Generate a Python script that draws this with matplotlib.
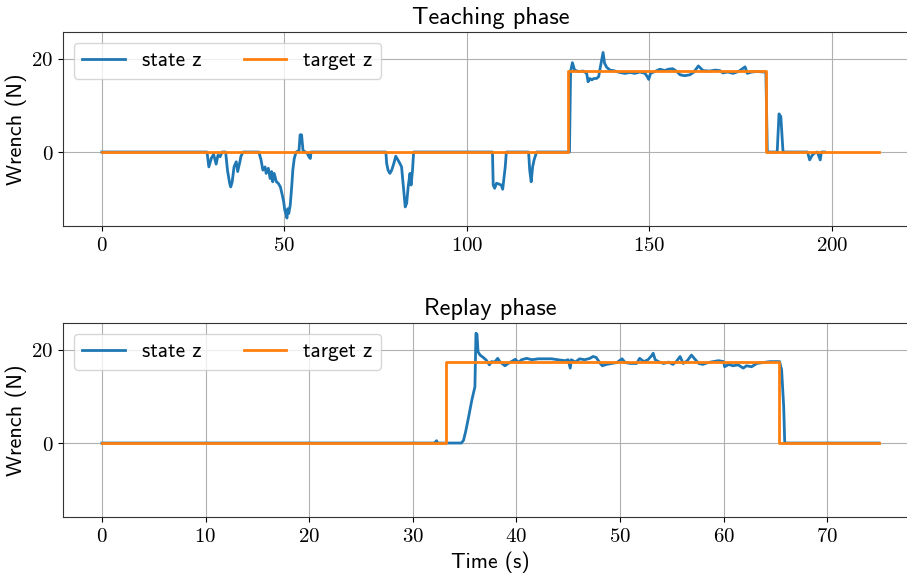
"""
Force tracking plot: teaching phase vs replay phase (z wrench).
"""
import numpy as np
import matplotlib
matplotlib.use("Agg")
import matplotlib.pyplot as plt
from matplotlib.ticker import FuncFormatter

BLUE = "#1f77b4"
ORANGE = "#ff7f0e"

plt.rcParams.update({
    "font.family": "cmss10",
    "mathtext.fontset": "cm",
    "axes.unicode_minus": False,
    "axes.edgecolor": "#333333",
    "grid.color": "#b0b0b0",
})

# ── Teaching phase ─────────────────────────────────────────────────────────
teach_state_t = [
    0.0, 28.8, 29.3, 30.0, 30.6, 31.3, 31.8, 32.4, 32.9, 33.9, 34.4, 35.0, 35.3, 35.7,
    36.2, 36.8, 37.2, 37.8, 38.1, 38.7, 43.0, 43.6, 44.1, 44.7, 45.0, 45.6, 46.1,
    46.5, 46.8, 47.2, 47.8, 48.3, 48.9, 49.4, 49.8, 50.1, 50.5, 50.7, 50.9, 51.2,
    51.6, 52.0, 52.3, 52.7, 53.2, 54.0, 54.3, 54.7, 55.1, 55.8, 56.3, 56.7, 57.1,
    57.3, 77.8, 78.0, 78.4, 78.9, 79.4, 80.0, 80.5, 81.1, 81.6, 82.1, 82.6, 83.1,
    83.5, 83.9, 84.4, 84.7, 85.1, 85.4, 107.0, 107.2, 107.6, 108.1, 108.8, 109.4,
    109.8, 110.1, 110.5, 110.8, 116.9, 117.2, 117.6, 118.0, 118.4, 118.7, 119.1,
    128.1, 128.4, 128.9, 129.5, 130.6, 131.9, 132.8, 133.2, 133.7, 134.2, 134.8,
    135.5, 136.1, 136.4, 137.0, 137.3, 137.7, 138.3, 139.2, 140.1, 141.0, 141.9,
    143.3, 144.7, 146.0, 147.4, 148.8, 149.4, 149.8, 150.3, 151.5, 152.9, 154.2,
    155.2, 156.4, 157.5, 158.4, 159.6, 161.1, 162.2, 163.4, 164.7, 166.5, 168.0,
    169.3, 170.1, 171.5, 172.9, 174.4, 175.3, 176.2, 176.8, 178.0, 179.6, 181.2,
    181.9, 182.3, 185.0, 185.5, 186.0, 186.6, 193.3, 193.9, 194.5, 195.1, 196.0,
    196.8, 197.1, 198.0,
]
teach_state_v = [
    0.0, 0.0, -3.2, -1.3, -0.5, -2.6, -0.7, -1.0, 0.0, 0.0, -3.9, -6.7, -7.5, -6.4,
    -3.2, -2.1, -4.2, -2.1, -0.9, 0.0, 0.0, -1.7, -3.9, -3.2, -4.6, -3.5, -5.7,
    -4.2, -6.4, -4.6, -6.4, -6.7, -7.5, -9.2, -10.7, -12.5, -13.5, -14.2, -12.2, -13.2,
    -11.4, -7.5, -3.9, -1.4, 0.0, 0.3, 3.7, 3.7, 0.3, 0.0, -0.3, -1.0, -1.4,
    0.0, 0.0, -2.4, -3.9, -4.6, -3.9, -2.4, -0.9, -1.7, -2.4, -3.2, -7.5, -11.8,
    -11.0, -7.5, -4.6, -7.1, -3.9, 0.0, 0.0, -7.1, -7.8, -6.7, -6.9, -7.1,
    -8.0, -6.0, -3.2, 0.0, 0.0, -3.9, -6.4, -3.2, -1.7, -1.0, 0.0,
    0.0, 17.3, 19.2, 17.6, 17.3, 17.4, 16.9, 15.1, 15.8, 15.5, 15.8,
    15.8, 16.2, 17.6, 20.1, 21.4, 19.1, 18.2, 17.6, 17.5, 17.3, 17.1,
    16.9, 17.1, 16.9, 17.2, 16.9, 16.2, 15.6, 16.9, 17.3, 17.8, 17.5,
    17.8, 17.9, 17.3, 16.6, 16.4, 16.6, 17.2, 18.5, 17.5, 17.4, 17.6,
    17.5, 17.0, 17.2, 16.9, 17.3, 17.8, 18.3, 16.9, 17.2, 17.3, 17.2,
    17.2, 0.0, 0.0, 8.2, 7.6, 0.0, 0.0, -1.7, -0.8, -0.3, 0.0,
    -1.7, 0.0, 0.0,
]
teach_target_t = [0.0, 127.8, 127.8, 181.8, 181.8, 212.9]
teach_target_v = [0.0, 0.0, 17.4, 17.4, 0.0, 0.0]

# ── Replay phase ───────────────────────────────────────────────────────────
replay_state_t = [
    0.0, 32.1, 32.3, 32.4, 34.7, 34.9, 35.1, 35.4, 35.7, 36.0, 36.1, 36.2, 36.3,
    36.5, 36.8, 37.1, 37.4, 37.6, 37.9, 38.2, 38.4, 38.9, 39.2, 39.6, 39.9, 40.2,
    40.5, 41.0, 41.5, 42.1, 42.8, 43.4, 44.0, 44.7, 45.0, 45.2, 45.3, 45.7, 46.1,
    46.6, 47.1, 47.4, 47.7, 48.1, 48.3, 48.7, 49.2, 49.7, 50.2, 50.5, 51.0, 51.6,
    51.9, 52.3, 52.7, 53.1, 53.2, 53.4, 53.7, 54.2, 54.7, 55.1, 55.4, 55.8, 56.1,
    56.5, 56.9, 57.2, 57.6, 58.0, 58.5, 59.0, 59.5, 60.0, 60.1, 60.5, 60.9, 61.4,
    61.9, 62.2, 62.7, 63.2, 63.8, 64.5, 65.1, 65.4, 65.6, 65.8, 65.9, 75.0,
]
replay_state_v = [
    0.0, 0.0, 0.5, 0.0, 0.0, 0.6, 2.4, 5.7, 9.2, 12.1, 23.6, 23.4, 19.6,
    18.9, 18.4, 17.8, 16.8, 17.5, 17.4, 18.2, 17.5, 16.6, 17.1, 17.6, 18.0, 17.3,
    17.9, 18.2, 17.9, 18.1, 18.1, 18.1, 17.9, 17.7, 17.9, 16.1, 17.9, 17.4, 18.1,
    17.9, 18.2, 18.6, 18.4, 17.1, 16.6, 16.9, 17.1, 17.3, 18.1, 17.3, 17.1, 17.1,
    18.2, 17.5, 17.9, 18.9, 19.3, 17.9, 17.5, 17.1, 17.4, 16.9, 17.4, 18.6, 17.1,
    17.7, 18.9, 18.1, 17.1, 16.9, 17.3, 17.5, 17.7, 17.5, 16.4, 16.9, 16.6, 16.8,
    16.1, 16.6, 16.4, 17.1, 17.3, 17.5, 17.5, 17.5, 15.7, 7.8, 0.0, 0.0,
]
replay_target_t = [0.0, 33.2, 33.2, 65.35, 65.35, 75.0]
replay_target_v = [0.0, 0.0, 17.5, 17.5, 0.0, 0.0]


def plot_phase(ax, title, st_t, st_v, tg_t, tg_v, xticks):
    ax.plot(st_t, st_v, color=BLUE, lw=2, label="state z")
    ax.plot(tg_t, tg_v, color=ORANGE, lw=2, label="target z")
    ax.set_title(title, fontsize=17.5)
    ax.set_ylabel("Wrench (N)", fontsize=16, labelpad=3)
    ax.set_ylim(-15.9, 25.8)
    ax.set_yticks([0, 20])
    ax.set_xticks(xticks)
    fmt = FuncFormatter(lambda v, p: f"${v:g}$")
    ax.xaxis.set_major_formatter(fmt)
    ax.yaxis.set_major_formatter(fmt)
    ax.tick_params(labelsize=15)
    ax.grid(True)
    ax.legend(loc="upper left", ncol=2, fontsize=15.3)


def main():
    fig, axes = plt.subplots(2, 1, figsize=(9.07, 5.74), dpi=100)
    plot_phase(axes[0], "Teaching phase", teach_state_t, teach_state_v,
               teach_target_t, teach_target_v, [0, 50, 100, 150, 200])
    plot_phase(axes[1], "Replay phase", replay_state_t, replay_state_v,
               replay_target_t, replay_target_v, [0, 10, 20, 30, 40, 50, 60, 70])
    axes[1].set_xlabel("Time (s)", fontsize=15.5)
    # axes run slightly past the right edge, as in the cropped original
    fig.subplots_adjust(left=0.0695, right=1.012, top=0.9443, bottom=0.0993, hspace=0.5)
    fig.savefig("out.png", dpi=100)
    plt.close(fig)


if __name__ == "__main__":
    main()
